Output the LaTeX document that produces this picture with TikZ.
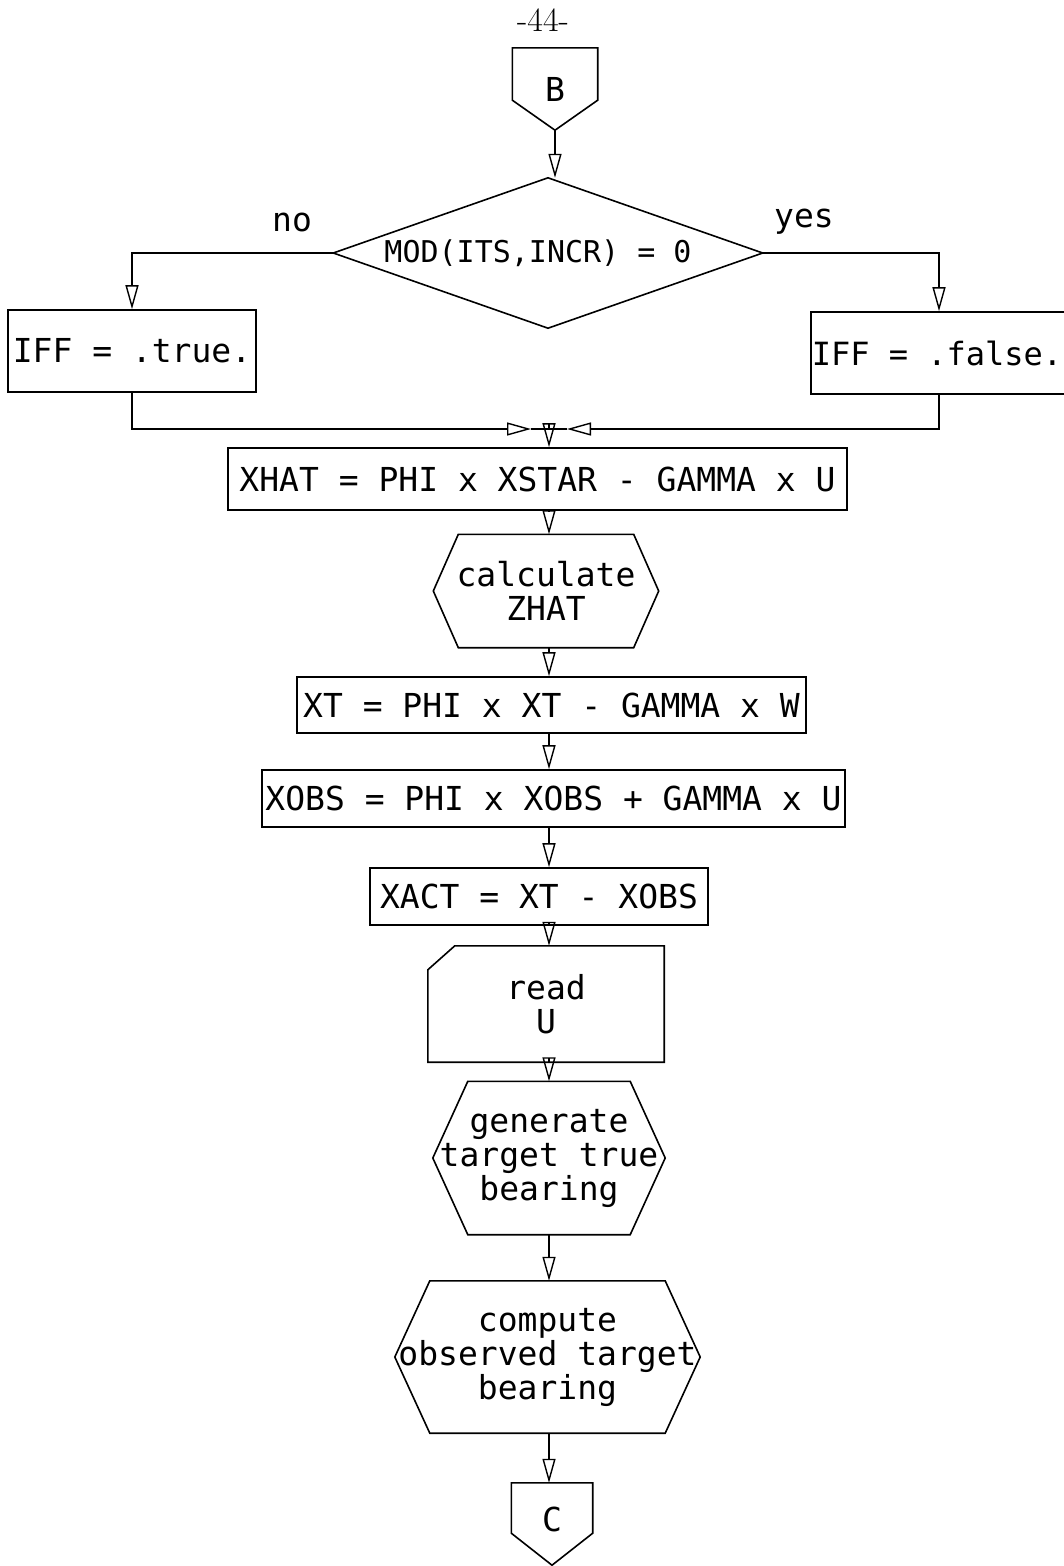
\documentclass[tikz,border=0pt]{standalone}
\usepackage{fontspec}
\setmonofont{DejaVu Sans Mono}
\usetikzlibrary{arrows.meta,calc}
\newcommand\hexo[2]{\draw[lw] ([xshift=#2]#1.north west) -- ([xshift=-#2]#1.north east) -- (#1.east) -- ([xshift=-#2]#1.south east) -- ([xshift=#2]#1.south west) -- (#1.west) -- cycle;}
\begin{document}
\begin{tikzpicture}[x=1pt,y=-1pt,
  lw/.style={line width=1.6pt},
  arr/.style={lw,-{Triangle[open,length=24pt,width=13pt,line width=1.4pt]}},
  txt/.style={font=\ttfamily\fontsize{33}{34}\selectfont, align=center, inner sep=0pt},
  procbox/.style={txt,draw,lw}
]
\useasboundingbox (0,0) rectangle (1063,1566);
\fill[white] (0,0) rectangle (1063,1566);

\node[font=\fontsize{34}{34}\selectfont] (pg) at (543,20) {-44-};

% connector B
\node[txt,minimum width=85pt,minimum height=82pt] (B) at (555,89) {\raisebox{-8pt}{B}};
\draw[lw] (B.north west) -- (B.north east) -- ([yshift=30pt]B.south east) -- (B.south) -- ([yshift=30pt]B.south west) -- cycle;

% decision
\node[txt,font=\ttfamily\fontsize{30}{32}\selectfont,minimum width=429pt,minimum height=150pt] (D) at (548,253) {MOD(ITS,INCR) = 0\hspace*{20pt}};
\draw[lw] (D.north) -- (D.east) -- (D.south) -- (D.west) -- cycle;
\node[txt] (no) at (292,222) {no};
\node[txt] (yes) at (804,222) {yes};

\node[procbox,minimum width=248pt,minimum height=82pt] (L) at (132,351) {IFF = .true.};
\node[procbox,font=\ttfamily\fontsize{32}{34}\selectfont,minimum width=256pt,minimum height=82pt] (R) at (939,353) {IFF = .false.\hspace*{4pt}};

\node[procbox,minimum width=619pt,minimum height=62pt] (X1) at (537.5,479) {XHAT = PHI x XSTAR - GAMMA x U};

\node[txt,minimum width=225pt,minimum height=113pt] (H1) at (546,591) {calculate\\ZHAT};
\hexo{H1}{25pt}

\node[procbox,minimum width=509pt,minimum height=56pt] (X2) at (551.5,705) {XT = PHI x XT - GAMMA x W};
\node[procbox,minimum width=583pt,minimum height=57pt] (X3) at (553.5,798.5) {XOBS = PHI x XOBS + GAMMA x U};
\node[procbox,minimum width=338pt,minimum height=57pt] (X4) at (539,896.5) {XACT = XT - XOBS};

\node[txt,minimum width=236pt,minimum height=116pt] (K) at (546,1004) {read\\U};
\draw[lw] ([xshift=27pt]K.north west) -- (K.north east) -- (K.south east) -- (K.south west) -- ([yshift=-24pt]K.north west) -- cycle;

\node[txt,minimum width=232pt,minimum height=153pt] (H2) at (549,1158) {generate\\target true\\bearing};
\hexo{H2}{35pt}

\node[txt,minimum width=305pt,minimum height=152pt] (H3) at (547.5,1357) {compute\\observed target\\bearing};
\hexo{H3}{35pt}

\node[txt,minimum width=81pt,minimum height=82pt] (C) at (552,1524) {\raisebox{10pt}{C}};
\draw[lw] (C.north west) -- (C.north east) -- ([yshift=32pt]C.south east) -- (C.south) -- ([yshift=32pt]C.south west) -- cycle;

% connectors
\coordinate (sp) at (549,0);
\coordinate (ml) at (531,429);
\coordinate (mr) at (567,429);
\coordinate (mj) at (549,429);
\draw[arr] (B.south) -- (B.south |- D.north);
\draw[arr] (D.west) -| (L.north);
\draw[arr] (D.east) -| (R.north);
\draw[arr] (L.south) |- (ml);
\draw[arr] (R.south) |- (mr);
\draw[lw] (ml) -- (mr);
\draw[arr] (mj) -- (mj |- X1.north);
\draw[arr] (X1.south -| sp) -- (H1.north -| sp);
\draw[arr] (H1.south -| sp) -- (X2.north -| sp);
\draw[arr] (X2.south -| sp) -- (X3.north -| sp);
\draw[arr] (X3.south -| sp) -- (X4.north -| sp);
\draw[arr] (X4.south -| sp) -- (K.north -| sp);
\draw[arr] (K.south -| sp) -- (H2.north -| sp);
\draw[arr] (H2.south -| sp) -- (H3.north -| sp);
\draw[arr] (H3.south -| sp) -- (C.north -| sp);
\end{tikzpicture}
\end{document}
